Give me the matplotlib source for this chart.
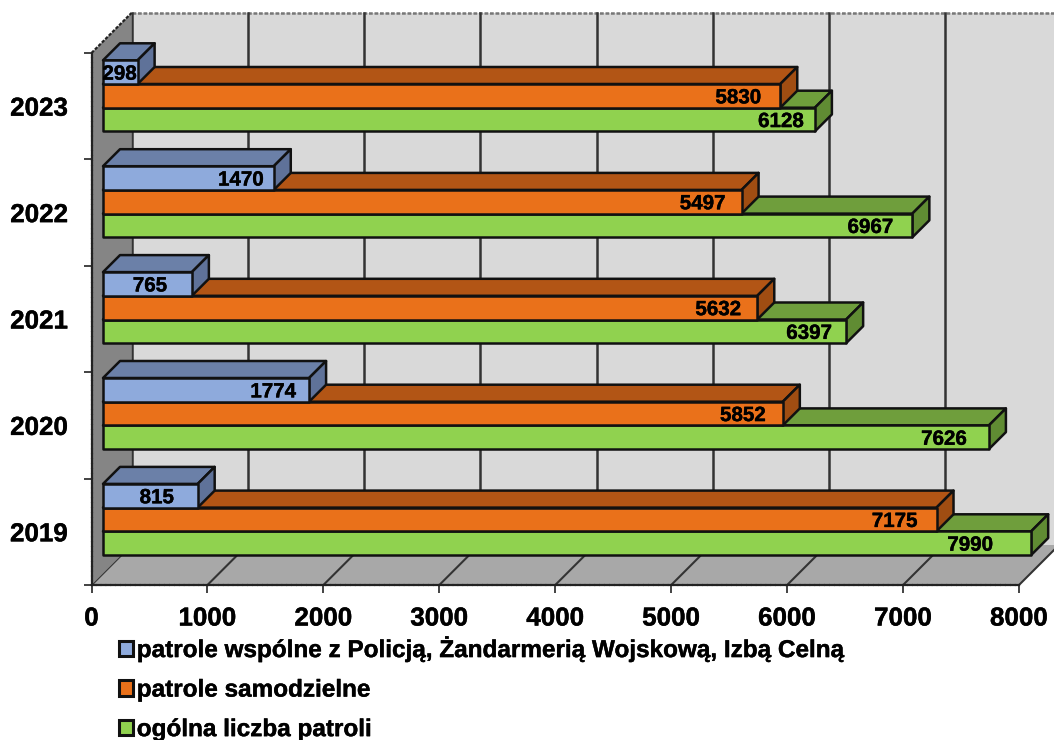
"""Patrol counts per year as a pseudo-3D horizontal bar chart."""
import matplotlib

matplotlib.use("Agg")
import matplotlib.patheffects as pe
import matplotlib.pyplot as plt
from matplotlib.patches import Patch, Polygon

plt.rcParams["font.family"] = ["Liberation Sans", "DejaVu Sans"]
plt.rcParams["font.weight"] = "bold"

YEARS = ["2019", "2020", "2021", "2022", "2023"]
WSPOLNE = [815, 1774, 765, 1470, 298]
SAMODZIELNE = [7175, 5852, 5632, 5497, 5830]
OGOLNA = [7990, 7626, 6397, 6967, 6128]
X_TICKS = [0, 1000, 2000, 3000, 4000, 5000, 6000, 7000, 8000]
LEGEND_LABELS = ["patrole wspólne z Policją, Żandarmerią Wojskową, Izbą Celną",
                 "patrole samodzielne", "ogólna liczba patroli"]

# label distance from the bar end, px (green, orange, blue per year)
LABEL_GAPS = [(61, 42, 41), (45, 40, 36), (37, 39, 42), (42, 39, 33), (34, 42, 18)]

W, H = 1054, 740
LEFT, RIGHT, TOP, BOTTOM = 91.5, 1019, 53, 585
UX = 8000 / (RIGHT - LEFT)      # data units per px
UY = 5 / (BOTTOM - TOP)
WALL_D = 40                     # depth of the box, px
WALL_SCALE = 1.003              # back wall grid runs a touch wider than the axis
BAR_D = 17                      # depth of a bar, px
BAR_SCALE = 1.002
BAR_X0 = 11.5                   # bars start this far right of the axis, px
BAR_Y0 = 30                     # first bar sits this far above the floor edge, px
BAR_H = 23.7
BAR_STEP = 105.9                # px between year groups
EDGE = "#111111"
BOLDER = [pe.withStroke(linewidth=0.3, foreground="black")]

SERIES = [  # drawn back to front: green, orange, blue
    (OGOLNA, 0, "#90D24F", "#6F9E3C", "#608C33"),
    (SAMODZIELNE, 1, "#EA711A", "#B25515", "#A04D12"),
    (WSPOLNE, 2, "#8EAADC", "#6B80A8", "#5F7299"),
]


def poly(ax, pts, color, **kw):
    kw.setdefault("edgecolor", EDGE)
    kw.setdefault("linewidth", 1.8)
    ax.add_patch(Polygon(pts, closed=True, facecolor=color, clip_on=False,
                         joinstyle="round", **kw))


def draw_box(ax):
    dx, dy = WALL_D * UX, WALL_D * UY
    poly(ax, [(dx, dy), (8200 + dx, dy), (8200 + dx, 5 + dy), (dx, 5 + dy)],
         "#D9D9D9", edgecolor="none", zorder=1)
    poly(ax, [(0, 0), (8000, 0), (8000 + dx, dy), (dx, dy)], "#A8A8A8",
         edgecolor="none", zorder=1)
    ax.plot([dx, 8200 + dx], [5 + dy, 5 + dy], color="#777777", lw=1.8, ls=(0, (1.5, 0.7)),
            zorder=2, clip_on=False)
    for t in X_TICKS:
        ax.plot([t, t + dx], [0, dy], color="#333333", lw=1.5, zorder=2, clip_on=False)
        ax.plot([t * WALL_SCALE + dx] * 2, [dy, 5 + dy], color="#333333", lw=1.8, zorder=2,
                clip_on=False)
    poly(ax, [(0, 0), (dx, dy), (dx, 5 + dy), (0, 5)], "#858585", edgecolor="none", zorder=2)
    ax.plot([0, dx], [5, 5 + dy], color="#222222", lw=1.6, ls=(0, (1.5, 0.7)), zorder=2,
            clip_on=False)


def draw_bar(ax, value, y0, front, top, side, z):
    x0 = BAR_X0 * UX
    x1 = x0 + value * BAR_SCALE
    y1 = y0 + BAR_H * UY
    dx, dy = BAR_D * UX, BAR_D * UY
    poly(ax, [(x0, y1), (x1, y1), (x1 + dx, y1 + dy), (x0 + dx, y1 + dy)], top, zorder=z)
    poly(ax, [(x1, y0), (x1 + dx, y0 + dy), (x1 + dx, y1 + dy), (x1, y1)], side, zorder=z)
    poly(ax, [(x0, y0), (x1, y0), (x1, y1), (x0, y1)], front, zorder=z)
    return x1, (y0 + y1) / 2


def main():
    fig = plt.figure(figsize=(W / 100, H / 100), dpi=100)
    ax = fig.add_axes([LEFT / W, 1 - BOTTOM / H, (RIGHT - LEFT) / W, (BOTTOM - TOP) / H])
    ax.set_xlim(0, 8000)
    ax.set_ylim(0, 5)
    draw_box(ax)

    for i in range(len(YEARS)):
        for values, pos, front, top, side in SERIES:
            y0 = (BAR_Y0 + i * BAR_STEP + pos * BAR_H) * UY
            x1, yc = draw_bar(ax, values[i], y0, front, top, side, 3 + pos * 0.1)
            ax.text(x1 - LABEL_GAPS[i][pos] * UX, yc, str(values[i]), ha="center",
                    va="center_baseline", fontsize=14.8, color="#000000", zorder=5,
                    path_effects=BOLDER)

    for s in ("top", "right"):
        ax.spines[s].set_visible(False)
    for s in ("left", "bottom"):
        ax.spines[s].set_linestyle((0, (1.5, 0.7)))
        ax.spines[s].set_color("#222222")
        ax.spines[s].set_linewidth(1.6)
        ax.spines[s].set_zorder(6)
    ax.set_xticks(X_TICKS)
    ax.set_yticks(range(6))
    ax.set_yticklabels([])
    ax.set_yticks([i + 0.5 for i in range(5)], labels=YEARS, minor=True)
    ax.tick_params(axis="both", which="major", length=6, width=1.2, color="#222222")
    ax.tick_params(axis="y", which="minor", length=0, pad=17, labelsize=18.7)
    ax.tick_params(axis="x", labelsize=18.7, pad=9.5)
    for lab in ax.get_xticklabels() + ax.get_yticklabels(minor=True):
        lab.set_path_effects(BOLDER)

    handles = [Patch(facecolor=s[2], edgecolor=EDGE, linewidth=2.2) for s in reversed(SERIES)]
    leg = fig.legend(handles, LEGEND_LABELS, loc="upper left",
                     bbox_to_anchor=(111.5 / W, 1 - 629.5 / H), frameon=False, fontsize=17.5,
                     handlelength=0.58, handleheight=0.58, handletextpad=0.16,
                     labelspacing=0.68, borderaxespad=0, borderpad=0.3)
    for txt in leg.get_texts():
        txt.set_path_effects(BOLDER)
    fig.savefig("out.png", dpi=100)
    plt.close(fig)


if __name__ == "__main__":
    main()
